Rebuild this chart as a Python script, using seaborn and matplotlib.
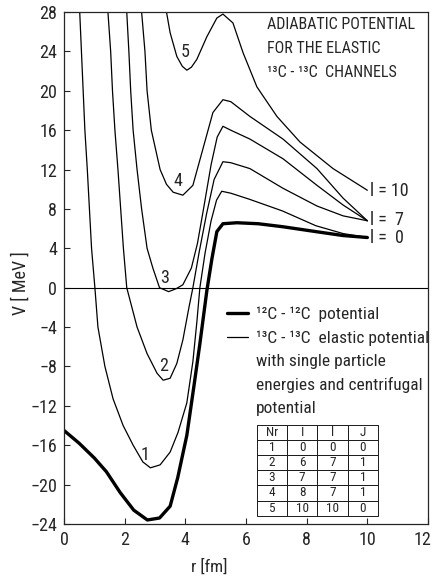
import matplotlib
matplotlib.use("Agg")
import matplotlib.pyplot as plt
from matplotlib.lines import Line2D
from matplotlib.transforms import ScaledTranslation
import pandas as pd
import seaborn as sns

# 12C-12C potential (thick)
r_cc12 = [0, 0.5, 1.0, 1.4, 1.85, 2.3, 2.75, 3.15, 3.5, 3.75, 4.05, 4.27, 4.48,
          4.71, 4.88, 5.04, 5.24, 5.7, 6.4, 7.2, 8.3, 9.2, 10.0]
v_cc12 = [-14.5, -15.8, -17.3, -18.7, -20.8, -22.6, -23.6, -23.4, -22.2, -19.3,
          -15.0, -10.3, -5.7, -0.3, 3.0, 5.7, 6.5, 6.6, 6.5, 6.2, 5.7, 5.3, 5.1]

# 13C-13C elastic channels, Nr 1..5
r_1 = [0.52, 0.69, 0.77, 0.91, 1.02, 1.12, 1.35, 1.62, 1.95, 2.28, 2.6, 2.85,
       3.17, 3.5, 3.76, 4.05, 4.25, 4.38, 4.48, 4.65, 4.85, 5.03, 5.2, 5.5,
       6.1, 7.2, 8.3, 9.2, 10.0]
v_1 = [28, 16, 12, 4, 0, -4, -8, -11.3, -14, -16, -17.7, -18.3, -18, -16.7,
       -14.7, -11.7, -7.5, -3.5, 0, 3.5, 6.8, 8.9, 9.8, 9.6, 9.0, 7.8, 6.3,
       5.5, 5.1]

r_2 = [1.45, 1.54, 1.6, 1.68, 1.78, 1.87, 1.96, 2.07, 2.41, 2.74, 3.07, 3.27,
       3.5, 3.72, 3.92, 4.12, 4.25, 4.45, 4.7, 4.95, 5.24, 5.5, 6.13, 7.22,
       8.34, 9.2, 10.0]
v_2 = [28, 24, 20, 16, 12, 8, 4, 0, -4, -6.7, -8.7, -9.4, -9.2, -7.7, -5.3,
       -2, 0, 3.5, 7.5, 11, 12.8, 12.7, 12.1, 10.1, 8.3, 7.3, 6.8]

r_3 = [2.07, 2.14, 2.2, 2.28, 2.41, 2.56, 2.74, 2.93, 3.15, 3.45, 3.7, 3.92,
       4.2, 4.4, 4.6, 4.85, 5.05, 5.24, 5.5, 6.13, 7.22, 8.34, 9.2, 10.0]
v_3 = [28, 24, 20, 16, 12, 8, 4, 2, 0, -0.4, -0.1, 0.3, 2, 4.5, 8, 12.5,
       15.3, 16.4, 16.0, 15.1, 13.1, 10.4, 8.4, 6.8]

r_4 = [2.56, 2.67, 2.74, 2.88, 3.17, 3.38, 3.6, 3.92, 4.25, 4.58, 4.91, 5.24,
       5.5, 6.13, 7.22, 8.34, 9.2, 10.0]
v_4 = [28, 24, 20, 16, 12, 10.5, 9.7, 9.4, 10.4, 14.1, 17.8, 19.1, 18.9,
       17.4, 15.1, 12.1, 9.1, 6.8]

r_5 = [3.38, 3.5, 3.72, 3.9, 4.05, 4.2, 4.38, 4.71, 5.04, 5.24, 5.57, 5.9,
       6.36, 7.02, 7.78, 8.87, 10.0]
v_5 = [28, 25.9, 23.5, 22.5, 22.1, 22.4, 23.2, 25.5, 27.4, 27.8, 26.9, 23.9,
       20.4, 17.4, 14.8, 12.1, 9.9]

curve_r = [r_1, r_2, r_3, r_4, r_5]
curve_v = [v_1, v_2, v_3, v_4, v_5]
curve_names = ["1", "2", "3", "4", "5"]
label_r = [2.67, 3.27, 3.33, 3.77, 4.0]
label_v = [-17.0, -8.0, 1.0, 10.8, 23.9]

end_labels = ["l = 10", "l =  7", "l =  0"]
end_v = [9.8, 6.9, 5.0]

title_lines = ["ADIABATIC POTENTIAL", "FOR THE ELASTIC", "¹³C - ¹³C  CHANNELS"]
title_v = [26.7, 24.35, 21.9]

table_cols = ["Nr", "I", "l", "J"]
table_rows = [["1", "0", "0", "0"],
              ["2", "6", "7", "1"],
              ["3", "7", "7", "1"],
              ["4", "8", "7", "1"],
              ["5", "10", "10", "0"]]

x_ticks = [0, 2, 4, 6, 8, 10, 12]
y_ticks = list(range(-24, 29, 4))

sns.set_theme(style="ticks")
plt.rcParams["font.family"] = ["Roboto Condensed", "DejaVu Sans"]
plt.rcParams["font.stretch"] = "condensed"
plt.rcParams["xtick.direction"] = "in"
plt.rcParams["ytick.direction"] = "in"

fig, ax = plt.subplots(figsize=(4.35, 5.77), dpi=100)
fig.subplots_adjust(left=0.147, right=0.984, top=0.979, bottom=0.092)

frames = []
for name, rr, vv in zip(curve_names, curve_r, curve_v):
    frames.append(pd.DataFrame({"r": rr, "V": vv, "Nr": name}))
df = pd.concat(frames, ignore_index=True)

sns.lineplot(data=df, x="r", y="V", units="Nr", estimator=None, sort=False,
             color="black", linewidth=0.9, ax=ax)
sns.lineplot(x=r_cc12, y=v_cc12, sort=False, color="black", linewidth=2.4,
             ax=ax)

ax.axhline(0, color="black", linewidth=0.8)

for name, lr, lv in zip(curve_names, label_r, label_v):
    ax.text(lr, lv, name, fontsize=13, ha="center", va="center")

for lab, ev in zip(end_labels, end_v):
    ax.text(10.1, ev, lab, fontsize=13, ha="left", va="center")

for line, tv in zip(title_lines, title_v):
    ax.text(6.7, tv, line, fontsize=11.5, ha="left", va="center")

handles = [Line2D([], [], color="black", linewidth=2.4),
           Line2D([], [], color="black", linewidth=0.9),
           Line2D([], [], color="none"),
           Line2D([], [], color="none"),
           Line2D([], [], color="none")]
labels = ["¹²C - ¹²C  potential",
          "¹³C - ¹³C  elastic potential",
          "with single particle",
          "energies and centrifugal",
          "potential"]
ax.legend(handles, labels, loc="upper left", bbox_to_anchor=(0.448, 0.424),
          frameon=False, fontsize=12.5, handlelength=1.2, handletextpad=0.45,
          labelspacing=0.45, borderaxespad=0, borderpad=0)

tab = ax.table(cellText=table_rows, colLabels=table_cols, cellLoc="center",
               bbox=[0.529, 0.016, 0.334, 0.178])
tab.auto_set_font_size(False)
tab.set_fontsize(9.5)
for cell in tab.get_celld().values():
    cell.set_linewidth(0.7)

ax.set_xlim(0, 12)
ax.set_ylim(-24, 28)
ax.set_xticks(x_ticks)
ax.set_yticks(y_ticks)
ax.tick_params(labelsize=13, length=4, width=0.8, pad=5)
for s in ax.spines.values():
    s.set_linewidth(0.9)
    s.set_visible(True)

# nudge the last x tick label so it stays inside the figure
last = ax.get_xticklabels()[-1]
last.set_transform(last.get_transform()
                   + ScaledTranslation(-4 / 72, 0, fig.dpi_scale_trans))

ax.set_xlabel("r [fm]", fontsize=12.5)
ax.set_ylabel("V [ MeV ]", fontsize=13)
ax.xaxis.set_label_coords(0.40, -0.068)
ax.yaxis.set_label_coords(-0.093, 0.47)

fig.savefig("out.png", dpi=100)
